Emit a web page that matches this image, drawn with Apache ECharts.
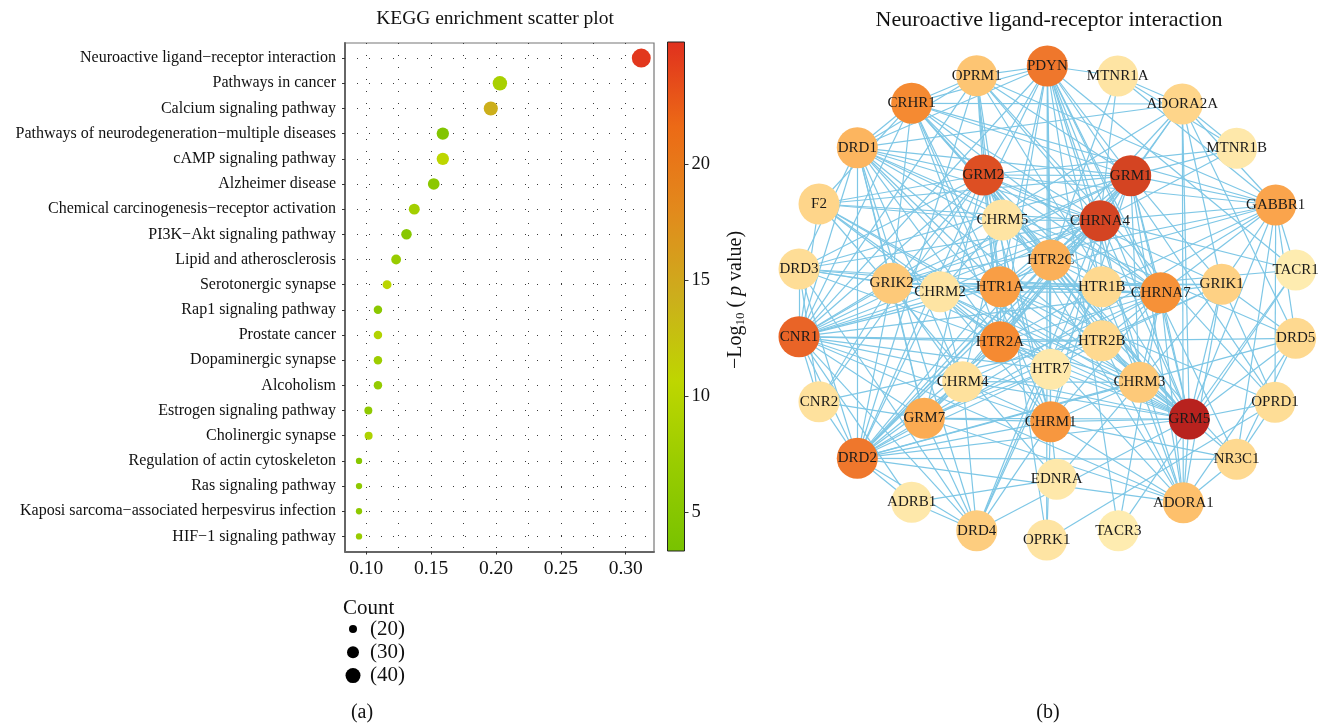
<!DOCTYPE html>
<html><head><meta charset="utf-8">
<script src="https://cdn.jsdelivr.net/npm/echarts@6/dist/echarts.min.js"></script>
<style>html,body{margin:0;padding:0;background:#fff}#c{width:1320px;height:726px}</style>
</head><body><div id="c"></div><script>
// ---------- data: KEGG scatter ----------
const pathways = [
  'Neuroactive ligand\u2212receptor interaction','Pathways in cancer','Calcium signaling pathway',
  'Pathways of neurodegeneration\u2212multiple diseases','cAMP signaling pathway','Alzheimer disease',
  'Chemical carcinogenesis\u2212receptor activation','PI3K\u2212Akt signaling pathway','Lipid and atherosclerosis',
  'Serotonergic synapse','Rap1 signaling pathway','Prostate cancer','Dopaminergic synapse','Alcoholism',
  'Estrogen signaling pathway','Cholinergic synapse','Regulation of actin cytoskeleton','Ras signaling pathway',
  'Kaposi sarcoma\u2212associated herpesvirus infection','HIF\u22121 signaling pathway'];
const geneRatio = [0.312,0.203,0.196,0.159,0.159,0.152,0.137,0.131,0.123,0.116,0.109,0.109,0.109,0.109,0.1016,0.1018,0.0944,0.0944,0.0944,0.0944];
const geneCount = [57,38,37,31,31,29,27,26,24,22,21,21,21,21,20,20,17,17,17,17];
const negLog10P = [24.8,8.5,14.2,4.5,10.5,5.5,8.0,5.0,7.0,10.3,5.5,9.5,7.5,6.5,6.0,9.0,5.0,5.8,5.8,7.0];
const xMajorTicks = [0.10,0.15,0.20,0.25,0.30];
const xGridValues = [0.100,0.125,0.150,0.175,0.200,0.225,0.250,0.275,0.300];
const colorbarTicks = [5,10,15,20];
const countLegend = [20,30,40];
const pColors = ['#78c200','#98cc00','#bed600','#ccae1c','#e28a1c','#ec6a16','#e0301e'];
const pMin = 3.32, pMax = 25.26;

// ---------- data: network ----------
const genes = ['PDYN','OPRM1','MTNR1A','CRHR1','ADORA2A','DRD1','MTNR1B','GRM2','GRM1','F2','GABBR1','CHRM5','CHRNA4','HTR2C','DRD3','TACR1','GRIK2','CHRM2','HTR1A','HTR1B','CHRNA7','GRIK1','CNR1','HTR2A','HTR2B','DRD5','HTR7','CHRM4','CHRM3','CNR2','GRM7','CHRM1','GRM5','OPRD1','DRD2','NR3C1','EDNRA','ADRB1','ADORA1','DRD4','TACR3','OPRK1'];
const geneX = [1047.3,976.7,1117.7,911.7,1182.3,857.3,1236.7,983.3,1130.7,819,1275.7,1002.3,1100,1050.7,799,1295.7,891.7,940,1000,1101.7,1160.7,1221.7,799,1000,1101.7,1295.7,1050.7,962.7,1139.3,819,924.3,1050.7,1189.3,1275,857.3,1236.7,1056.7,911.7,1183.3,976.7,1118.3,1046.7];
const geneY = [66,75.7,76,103.3,104,147.7,148.3,175,175.7,204,205,220,220.7,260,269,270,283.3,291.7,286.7,286.7,292.7,284.3,336.7,341.7,340.7,338.3,369.3,381.7,382.3,401.7,418.3,421.7,419,402.3,458.3,459.3,479.3,502.3,502.7,530.7,530.7,540];
const geneDegree = [24,12,4,22,8,15,3,28,29,8,18,4,29,16,6,2,11,4,19,7,21,9,26,22,7,7,3,5,11,5,17,20,32,6,24,7,3,3,13,10,2,4];
const degColors = ['#feecb0','#fed990','#fdc573','#fbab52','#f58a32','#e65a24','#b8221e'];
const edges = [
['GRM5','GRM1'],['GRM5','GRM2'],['GRM5','GRM7'],['GRM5','GRIK1'],['GRM5','GRIK2'],['GRM5','DRD2'],['GRM5','DRD1'],['GRM5','CNR1'],['GRM5','HTR2A'],['GRM5','HTR1A'],['GRM5','CHRM1'],['GRM5','CHRM3'],['GRM5','CHRNA4'],['GRM5','CHRNA7'],['GRM5','ADORA1'],['GRM5','ADORA2A'],['GRM5','GABBR1'],['GRM5','NR3C1'],['GRM5','PDYN'],['GRM5','CRHR1'],['GRM5','OPRM1'],['GRM5','DRD5'],['GRM5','OPRD1'],['GRM5','HTR2C'],['GRM5','HTR2B'],['GRM5','CHRM4'],['GRM5','CHRM5'],['GRM5','F2'],['GRM5','DRD4'],['GRM5','HTR7'],['GRM5','TACR1'],['GRM5','CHRM2'],
['GRM2','GRM1'],['GRM2','GRM7'],['GRM2','GRIK1'],['GRM2','GRIK2'],['GRM2','DRD2'],['GRM2','DRD1'],['GRM2','CNR1'],['GRM2','HTR2A'],['GRM2','HTR1A'],['GRM2','CHRM1'],['GRM2','CHRNA4'],['GRM2','CHRNA7'],['GRM2','ADORA1'],['GRM2','GABBR1'],['GRM2','PDYN'],['GRM2','CRHR1'],['GRM2','OPRM1'],['GRM2','HTR2C'],['GRM2','CHRM3'],['GRM2','F2'],['GRM2','DRD3'],['GRM2','CHRM5'],['GRM2','HTR1B'],['GRM2','CNR2'],['GRM2','MTNR1B'],
['GRM1','GRM7'],['GRM1','GRIK1'],['GRM1','GRIK2'],['GRM1','DRD2'],['GRM1','DRD1'],['GRM1','CNR1'],['GRM1','HTR2A'],['GRM1','HTR1A'],['GRM1','CHRM1'],['GRM1','CHRNA4'],['GRM1','CHRNA7'],['GRM1','ADORA1'],['GRM1','ADORA2A'],['GRM1','GABBR1'],['GRM1','PDYN'],['GRM1','CRHR1'],['GRM1','MTNR1B'],['GRM1','HTR2C'],['GRM1','CHRM3'],['GRM1','F2'],['GRM1','DRD4'],['GRM1','OPRM1'],['GRM1','DRD3'],
['CHRNA4','CHRNA7'],['CHRNA4','CHRM1'],['CHRNA4','CHRM2'],['CHRNA4','CHRM3'],['CHRNA4','CHRM4'],['CHRNA4','CHRM5'],['CHRNA4','DRD2'],['CHRNA4','DRD1'],['CHRNA4','CNR1'],['CHRNA4','HTR2A'],['CHRNA4','HTR1A'],['CHRNA4','HTR2C'],['CHRNA4','HTR1B'],['CHRNA4','PDYN'],['CHRNA4','CRHR1'],['CHRNA4','OPRM1'],['CHRNA4','GABBR1'],['CHRNA4','ADORA2A'],['CHRNA4','DRD3'],['CHRNA4','DRD4'],['CHRNA4','GRM7'],['CHRNA4','GRIK2'],['CHRNA4','MTNR1A'],['CHRNA4','MTNR1B'],['CHRNA4','TACR1'],['CHRNA4','F2'],
['CNR1','DRD2'],['CNR1','DRD1'],['CNR1','CNR2'],['CNR1','HTR2A'],['CNR1','HTR1A'],['CNR1','CHRM1'],['CNR1','CHRNA7'],['CNR1','GRM7'],['CNR1','PDYN'],['CNR1','CRHR1'],['CNR1','OPRM1'],['CNR1','GABBR1'],['CNR1','DRD3'],['CNR1','DRD4'],['CNR1','GRIK2'],['CNR1','F2'],['CNR1','HTR2B'],['CNR1','ADORA1'],['CNR1','ADORA2A'],['CNR1','CHRM2'],['CNR1','HTR7'],
['DRD2','DRD1'],['DRD2','DRD3'],['DRD2','DRD4'],['DRD2','DRD5'],['DRD2','HTR2A'],['DRD2','HTR1A'],['DRD2','CHRM1'],['DRD2','CHRNA7'],['DRD2','GRM7'],['DRD2','PDYN'],['DRD2','OPRM1'],['DRD2','CNR2'],['DRD2','ADRB1'],['DRD2','ADORA1'],['DRD2','ADORA2A'],['DRD2','HTR2C'],['DRD2','CHRM4'],['DRD2','GRIK2'],['DRD2','CHRM3'],['DRD2','HTR7'],['DRD2','NR3C1'],
['PDYN','OPRM1'],['PDYN','OPRK1'],['PDYN','OPRD1'],['PDYN','CRHR1'],['PDYN','DRD1'],['PDYN','HTR1A'],['PDYN','HTR2A'],['PDYN','CHRNA7'],['PDYN','MTNR1A'],['PDYN','TACR1'],['PDYN','TACR3'],['PDYN','HTR2C'],['PDYN','HTR1B'],['PDYN','NR3C1'],['PDYN','CHRM1'],['PDYN','ADORA1'],
['CRHR1','OPRM1'],['CRHR1','DRD1'],['CRHR1','HTR1A'],['CRHR1','HTR2A'],['CRHR1','NR3C1'],['CRHR1','CHRNA7'],['CRHR1','CHRM1'],['CRHR1','ADORA2A'],['CRHR1','HTR2C'],['CRHR1','GRIK2'],['CRHR1','F2'],['CRHR1','GABBR1'],
['CHRNA7','CHRM1'],['CHRNA7','CHRM3'],['CHRNA7','CHRM4'],['CHRNA7','HTR2A'],['CHRNA7','HTR1A'],['CHRNA7','HTR2B'],['CHRNA7','HTR2C'],['CHRNA7','GRIK1'],['CHRNA7','GRIK2'],['CHRNA7','DRD1'],['CHRNA7','ADORA1'],['CHRNA7','TACR3'],['CHRNA7','GABBR1'],['CHRNA7','CHRM2'],
['HTR2A','HTR1A'],['HTR2A','HTR2C'],['HTR2A','HTR1B'],['HTR2A','HTR2B'],['HTR2A','HTR7'],['HTR2A','CHRM1'],['HTR2A','CHRM3'],['HTR2A','DRD1'],['HTR2A','GRM7'],['HTR2A','F2'],['HTR2A','CHRM2'],['HTR2A','DRD3'],
['HTR1A','HTR2C'],['HTR1A','HTR1B'],['HTR1A','HTR2B'],['HTR1A','HTR7'],['HTR1A','DRD1'],['HTR1A','GRIK1'],['HTR1A','CHRM2'],['HTR1A','OPRD1'],['HTR1A','DRD3'],
['CHRM1','CHRM2'],['CHRM1','CHRM3'],['CHRM1','CHRM4'],['CHRM1','CHRM5'],['CHRM1','HTR2C'],['CHRM1','GRM7'],['CHRM1','EDNRA'],['CHRM1','OPRK1'],['CHRM1','ADORA1'],['CHRM1','DRD4'],['CHRM1','NR3C1'],
['GABBR1','GRIK1'],['GABBR1','DRD5'],['GABBR1','OPRD1'],['GABBR1','GRIK2'],['GABBR1','GRM7'],['GABBR1','MTNR1A'],['GABBR1','HTR1B'],['GABBR1','TACR1'],['GABBR1','NR3C1'],['GABBR1','ADORA2A'],
['DRD1','DRD3'],['DRD1','DRD5'],['DRD1','HTR2C'],['DRD1','GRM7'],['DRD1','ADORA1'],['DRD1','ADORA2A'],['DRD1','GRIK2'],['DRD1','CHRM4'],['DRD1','DRD4'],['DRD1','OPRM1'],
['GRM7','GRIK2'],['GRM7','GRIK1'],['GRM7','CHRM4'],['GRM7','DRD4'],['GRM7','ADORA1'],['GRM7','CNR2'],['GRM7','HTR7'],
['HTR2C','HTR1B'],['HTR2C','HTR2B'],['HTR2C','HTR7'],['HTR2C','CHRM5'],['HTR2C','MTNR1A'],
['OPRM1','OPRD1'],['OPRM1','OPRK1'],['OPRM1','HTR1A'],['OPRM1','HTR2A'],['OPRM1','GABBR1'],
['OPRD1','OPRK1'],['OPRD1','GRIK1'],['OPRD1','NR3C1'],
['ADORA2A','ADORA1'],['ADORA2A','MTNR1A'],['ADORA2A','MTNR1B'],['ADORA2A','GRIK1'],['ADORA2A','DRD5'],
['ADORA1','NR3C1'],['ADORA1','DRD5'],['ADORA1','GRIK1'],['ADORA1','CHRM3'],['ADORA1','HTR2B'],
['NR3C1','DRD5'],['DRD5','GRIK1'],['DRD5','HTR2B'],
['GRIK1','GRIK2'],['GRIK1','CHRM3'],['GRIK1','HTR2B'],
['GRIK2','CHRM2'],['GRIK2','CHRM4'],['GRIK2','CNR2'],['GRIK2','DRD3'],
['DRD3','DRD4'],['DRD3','CNR2'],['DRD3','CHRM2'],['DRD3','HTR1B'],
['DRD4','ADRB1'],['DRD4','CHRM4'],['DRD4','HTR7'],
['CNR2','HTR2B'],
['F2','HTR7'],['F2','CHRM3'],['F2','CHRM5'],['F2','EDNRA'],
['HTR1B','HTR2B'],['HTR1B','HTR7'],['HTR1B','CHRM3'],['HTR1B','TACR1'],
['HTR2B','HTR7'],['HTR2B','CHRM3'],
['CHRM3','CHRM4'],['CHRM3','CHRM5'],['CHRM3','CHRM2'],['CHRM3','EDNRA'],
['CHRM4','CHRM5'],['CHRM4','CHRM2'],['CHRM2','CHRM5'],
['TACR3','TACR1'],['EDNRA','ADRB1'],['MTNR1A','MTNR1B'],['ADRB1','CNR1']
];

// ---------- chart ----------
const SERIF = '"Liberation Serif","DejaVu Serif",serif';
const sizeOf = c => Math.sqrt(8 * c - 96);
const rowIdx = pathways.map((p, i) => i);
const xMin = 0.0836, xMax = 0.3218;

const chart = echarts.init(document.getElementById('c'), null, {renderer: 'canvas'});
const dotted = {color: '#3a3a3a', width: 1, type: [1, 11]};

const gradStops = pColors.map((c, i) => ({offset: i / (pColors.length - 1), color: c}));

const legendGraphics = [];
legendGraphics.push({type: 'text', x: 343, y: 608, style: {text: 'Count', font: '21px ' + SERIF, fill: '#111', verticalAlign: 'middle'}});
countLegend.forEach((c, i) => {
  const cy = 629 + i * 23.3;
  legendGraphics.push({type: 'circle', shape: {cx: 353, cy: cy, r: sizeOf(c) / 2}, style: {fill: '#000'}});
  legendGraphics.push({type: 'text', x: 370, y: cy, style: {text: '(' + c + ')', font: '21px ' + SERIF, fill: '#111', verticalAlign: 'middle'}});
});

const option = {
  animation: false,
  backgroundColor: '#fff',
  grid: [
    {left: 345, top: 43, width: 309, height: 508.5, show: true, borderColor: '#777', borderWidth: 1.2, backgroundColor: 'transparent'},
    {left: 667.5, top: 42, width: 17, height: 509, show: true, borderColor: '#222', borderWidth: 1,
     backgroundColor: {type: 'linear', x: 0, y: 1, x2: 0, y2: 0, colorStops: gradStops}}
  ],
  xAxis: [
    {type: 'value', gridIndex: 0, min: xMin, max: xMax, position: 'bottom',
     axisLine: {show: true, onZero: false, lineStyle: {color: '#666', width: 2}},
     axisTick: {show: true, length: 3, customValues: xMajorTicks, lineStyle: {color: '#333'}},
     axisLabel: {customValues: xMajorTicks, formatter: v => v.toFixed(2), fontFamily: SERIF, fontSize: 19.5, color: '#111', margin: 7},
     splitLine: {show: false}},
    {type: 'value', gridIndex: 0, min: xMin, max: xMax, position: 'top',
     axisLine: {show: false, onZero: false}, axisTick: {show: false, customValues: xGridValues}, axisLabel: {show: false},
     splitLine: {show: true, lineStyle: dotted}},
    {type: 'value', gridIndex: 1, min: 0, max: 1, show: false, axisLine: {onZero: false}}
  ],
  yAxis: [
    {type: 'value', gridIndex: 0, min: -0.6, max: 19.6, inverse: true,
     axisLine: {show: true, onZero: false, lineStyle: {color: '#666', width: 2}},
     axisTick: {show: true, length: 3, customValues: rowIdx, lineStyle: {color: '#333'}},
     axisLabel: {customValues: rowIdx, formatter: v => pathways[Math.round(v)], fontFamily: SERIF, fontSize: 16, color: '#111', margin: 9},
     splitLine: {show: true, lineStyle: dotted}},
    {type: 'value', gridIndex: 1, min: pMin, max: pMax, position: 'right',
     axisLine: {show: false, onZero: false},
     axisTick: {show: true, inside: false, length: 4, customValues: colorbarTicks, lineStyle: {color: '#333'}},
     axisLabel: {customValues: colorbarTicks, fontFamily: SERIF, fontSize: 18.5, color: '#111', margin: 7},
     splitLine: {show: false}}
  ],
  visualMap: [
    {type: 'continuous', show: false, seriesIndex: 0, dimension: 2, min: pMin, max: pMax, inRange: {color: pColors}},
    {type: 'continuous', show: false, seriesIndex: 1, min: 2, max: 32, inRange: {color: degColors}}
  ],
  series: [
    {type: 'scatter', xAxisIndex: 0, yAxisIndex: 0, z: 5,
     data: pathways.map((p, i) => [geneRatio[i], i, negLog10P[i], geneCount[i]]),
     symbolSize: d => sizeOf(d[3]), itemStyle: {opacity: 1}, silent: true},
    {type: 'graph', layout: 'none', left: 799, top: 66, width: 496.7, height: 474, roam: false,
     symbolSize: 41, silent: true, z: 3,
     data: genes.map((g, i) => ({name: g, x: geneX[i], y: geneY[i], value: geneDegree[i]})),
     links: edges.map(e => ({source: e[0], target: e[1]})),
     label: {show: true, position: 'inside', fontFamily: SERIF, fontSize: 15, color: '#1a1a1a'},
     lineStyle: {color: '#7ec7e6', width: 1.2, opacity: 1, curveness: 0},
     emphasis: {disabled: true}}
  ],
  graphic: [
    {type: 'text', x: 495, y: 19, style: {text: 'KEGG enrichment scatter plot', font: '19.5px ' + SERIF, fill: '#111', align: 'center', verticalAlign: 'middle'}},
    {type: 'text', x: 1049, y: 20, style: {text: 'Neuroactive ligand-receptor interaction', font: '22px ' + SERIF, fill: '#111', align: 'center', verticalAlign: 'middle'}},
    {type: 'text', x: 736, y: 300, rotation: Math.PI / 2,
     style: {text: '{n|\u2212Log}{s|10}{n| ( }{i|p}{n| value)}', align: 'center', verticalAlign: 'middle', fill: '#111',
       rich: {n: {fontFamily: SERIF, fontSize: 20, lineHeight: 24},
              s: {fontFamily: SERIF, fontSize: 13, lineHeight: 24, padding: [10, 0, 0, 0]},
              i: {fontFamily: SERIF, fontSize: 20, fontStyle: 'italic', lineHeight: 24}}}},
    {type: 'text', x: 362, y: 713, style: {text: '(a)', font: '20px ' + SERIF, fill: '#111', align: 'center', verticalAlign: 'middle'}},
    {type: 'text', x: 1048, y: 713, style: {text: '(b)', font: '20px ' + SERIF, fill: '#111', align: 'center', verticalAlign: 'middle'}}
  ].concat(legendGraphics)
};
chart.setOption(option);
</script></body></html>
